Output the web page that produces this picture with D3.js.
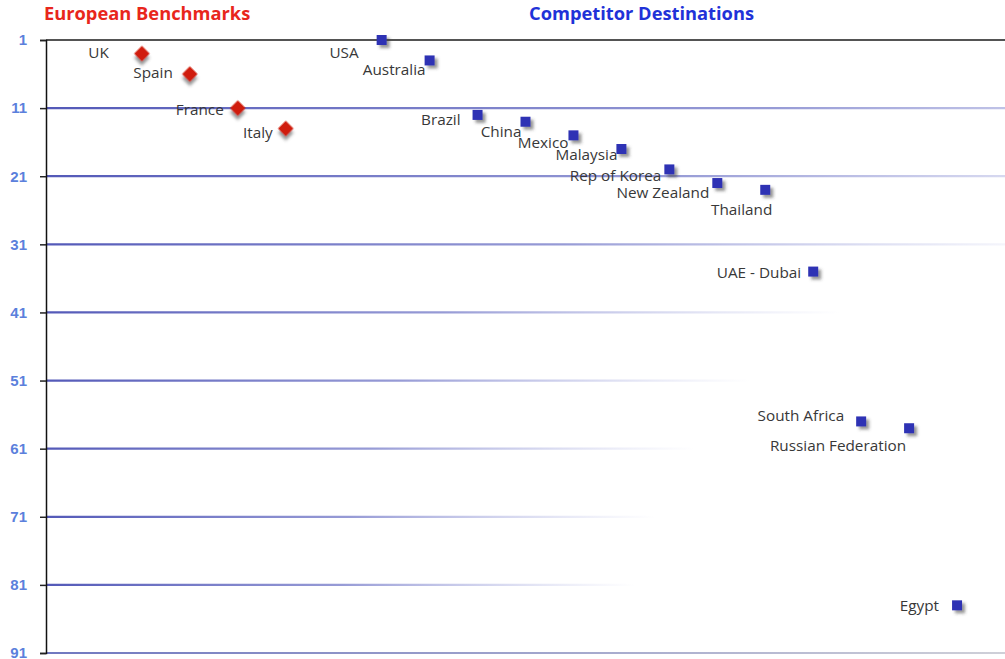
<!DOCTYPE html>
<html>
<head>
<meta charset="utf-8">
<title>European Benchmarks vs Competitor Destinations</title>
<script src="https://cdn.jsdelivr.net/npm/d3@7"></script>
<style>
  html, body { margin: 0; padding: 0; background: #ffffff; }
  svg { display: block; }
</style>
</head>
<body>
<svg id="chart" width="1005" height="659"></svg>
<script>
// ---- data: rank (1 = best) and slot along the horizontal axis ----
const europeNames = ["UK", "Spain", "France", "Italy"];
const europeSlot  = [2, 3, 4, 5];
const europeRank  = [3, 6, 11, 14];

const competitorNames = ["USA", "Australia", "Brazil", "China", "Mexico", "Malaysia",
  "Rep of Korea", "New Zealand", "Thailand", "UAE - Dubai", "South Africa",
  "Russian Federation", "Egypt"];
const competitorSlot = [7, 8, 9, 10, 11, 12, 13, 14, 15, 16, 17, 18, 19];
const competitorRank = [1, 4, 12, 13, 15, 17, 20, 22, 23, 35, 57, 58, 84];

const rankTicks = [1, 11, 21, 31, 41, 51, 61, 71, 81, 91];

// ---- layout ----
const W = 1005, H = 659;
const axisX = 46, plotTop = 40, plotBottom = 653;

// label placement relative to each marker: [dx, dy], text anchored at its end
const labelOffset = {
  "UK": [-33, 4], "Spain": [-17, 4], "France": [-14, 7], "Italy": [-13, 9],
  "USA": [-23, 18], "Australia": [-4, 15], "Brazil": [-17, 10], "China": [-4, 15],
  "Mexico": [-5, 13], "Malaysia": [-4, 11], "Rep of Korea": [-8, 12],
  "New Zealand": [-8, 15], "Thailand": [7, 25], "UAE - Dubai": [-12, 6],
  "South Africa": [-17, 0], "Russian Federation": [-3, 23], "Egypt": [-18, 6]
};
// where each gridline has faded out completely
const gridFadeEnd = {11: 1500, 21: 1300, 31: 1080, 41: 840, 51: 750, 61: 695, 71: 655, 81: 635};

const svg = d3.select("#chart");
const x = d3.scaleLinear().domain([0, 20]).range([axisX, W]);
const y = d3.scaleLinear().domain([1, 91]).range([plotTop, plotBottom]);

const defs = svg.append("defs");
const shadow = defs.append("filter").attr("id", "shadow")
  .attr("x", "-50%").attr("y", "-50%").attr("width", "220%").attr("height", "220%");
shadow.append("feDropShadow").attr("dx", 3).attr("dy", 3).attr("stdDeviation", 1.6)
  .attr("flood-color", "#404040").attr("flood-opacity", 0.55);

// fading gridlines
rankTicks.filter(t => gridFadeEnd[t]).forEach(t => {
  const g = defs.append("linearGradient").attr("id", "fade" + t)
    .attr("gradientUnits", "userSpaceOnUse")
    .attr("x1", axisX).attr("x2", gridFadeEnd[t]).attr("y1", 0).attr("y2", 0);
  g.append("stop").attr("offset", 0).attr("stop-color", "#4a50b4").attr("stop-opacity", 0.95);
  g.append("stop").attr("offset", 0.5).attr("stop-color", "#6a70c4").attr("stop-opacity", 0.7);
  g.append("stop").attr("offset", 1).attr("stop-color", "#9aa0dc").attr("stop-opacity", 0);
});
const gBottom = defs.append("linearGradient").attr("id", "fadeBottom")
  .attr("gradientUnits", "userSpaceOnUse")
  .attr("x1", axisX).attr("x2", W).attr("y1", 0).attr("y2", 0);
gBottom.append("stop").attr("offset", 0).attr("stop-color", "#7078c0");
gBottom.append("stop").attr("offset", 1).attr("stop-color", "#cfd0d8");

svg.append("g").selectAll("line")
  .data(rankTicks.filter(t => gridFadeEnd[t]))
  .join("line")
  .attr("x1", axisX).attr("x2", W)
  .attr("y1", d => y(d)).attr("y2", d => y(d))
  .attr("stroke", d => `url(#fade${d})`)
  .attr("stroke-width", 2.2);

svg.append("line")
  .attr("x1", axisX).attr("x2", W).attr("y1", y(91)).attr("y2", y(91))
  .attr("stroke", "url(#fadeBottom)").attr("stroke-width", 2);

svg.append("line")
  .attr("x1", axisX).attr("x2", W).attr("y1", y(1)).attr("y2", y(1))
  .attr("stroke", "#1a1a1a").attr("stroke-width", 1.3);

// rank axis
const yAxis = d3.axisLeft(y).tickValues(rankTicks).tickSize(6).tickPadding(13);
const ax = svg.append("g").attr("transform", `translate(${axisX},0)`).call(yAxis);
ax.select(".domain").attr("stroke", "#111").attr("stroke-width", 1.5);
ax.selectAll(".tick line").attr("stroke", "#222").attr("stroke-width", 1.5);
ax.selectAll(".tick text")
  .attr("fill", "#5b80dc")
  .style("font-family", "'Liberation Sans', Arial, sans-serif")
  .style("font-size", "15px")
  .style("font-weight", "bold");

// series titles
svg.append("text").attr("x", 44).attr("y", 20)
  .attr("fill", "#e8261c")
  .style("font-family", "'Open Sans', sans-serif").style("font-weight", "bold")
  .style("font-size", "18.3px")
  .text("European Benchmarks");
svg.append("text").attr("x", 529).attr("y", 20)
  .attr("fill", "#1f32d8")
  .style("font-family", "'Open Sans', sans-serif").style("font-weight", "bold")
  .style("font-size", "18.3px")
  .text("Competitor Destinations");

const europe = europeNames.map((n, i) => ({ name: n, slot: europeSlot[i], rank: europeRank[i] }));
const competitors = competitorNames.map((n, i) => ({ name: n, slot: competitorSlot[i], rank: competitorRank[i] }));

// labels
const labelStyle = sel => sel
  .attr("text-anchor", "end")
  .attr("fill", "#383838")
  .style("font-family", "'Open Sans', sans-serif")
  .style("font-size", "15.3px");

svg.append("g").selectAll("text").data(europe.concat(competitors)).join("text")
  .attr("x", d => x(d.slot) + labelOffset[d.name][0])
  .attr("y", d => y(d.rank) + labelOffset[d.name][1])
  .call(labelStyle)
  .text(d => d.name);

// markers
svg.append("g").selectAll("path").data(europe).join("path")
  .attr("d", d3.symbol(d3.symbolSquare, 120))
  .attr("transform", d => `translate(${x(d.slot)},${y(d.rank)}) rotate(45)`)
  .attr("fill", "#d01a08")
  .attr("filter", "url(#shadow)");

svg.append("g").selectAll("path").data(competitors).join("path")
  .attr("d", d3.symbol(d3.symbolSquare, 100))
  .attr("transform", d => `translate(${x(d.slot)},${y(d.rank)})`)
  .attr("fill", "#2f33b4")
  .attr("filter", "url(#shadow)");
</script>
</body>
</html>
